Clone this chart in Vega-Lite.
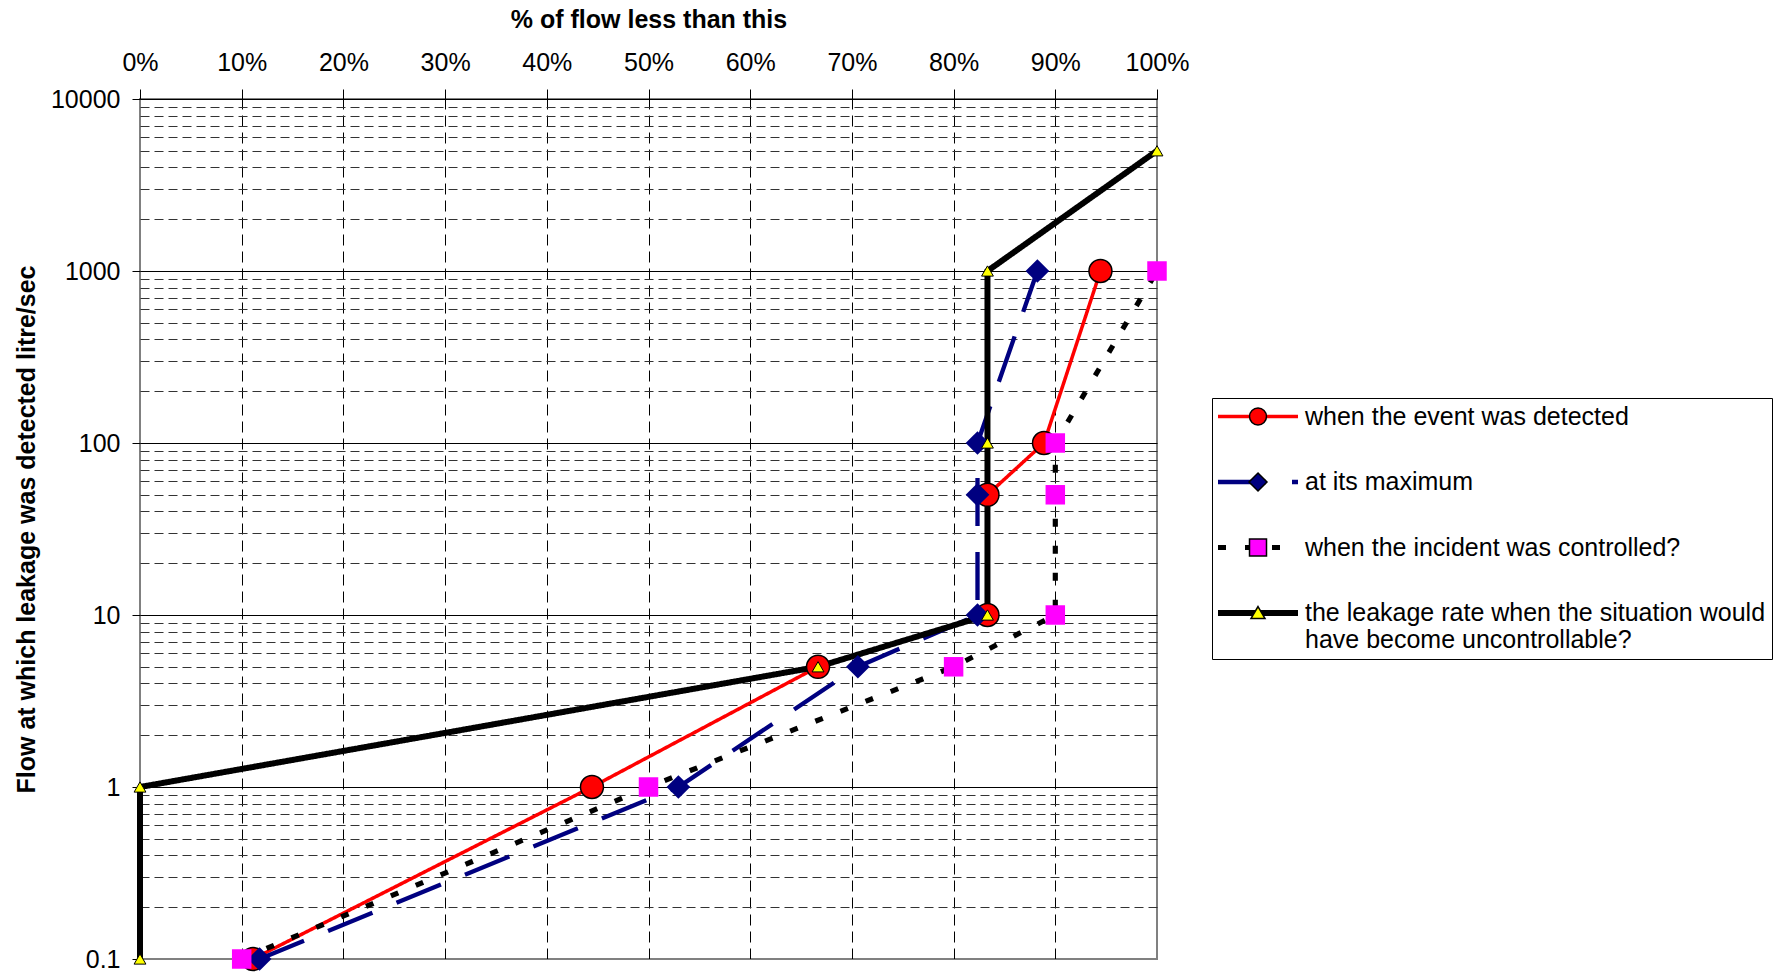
{
  "$schema": "https://vega.github.io/schema/vega-lite/v6.json",
  "width": 1017,
  "height": 860,
  "padding": {"left": 14, "top": 7, "right": 5, "bottom": 5},
  "background": "white",
  "config": {
    "font": "Liberation Sans",
    "view": {"stroke": "#808080", "strokeWidth": 2}
  },
  "data": {
    "values": [
      {"s": "when the event was detected", "k": 1, "p": 0.1111, "f": 0.1},
      {"s": "when the event was detected", "k": 1, "p": 0.4444, "f": 1},
      {"s": "when the event was detected", "k": 1, "p": 0.6667, "f": 5},
      {"s": "when the event was detected", "k": 1, "p": 0.8333, "f": 10},
      {"s": "when the event was detected", "k": 1, "p": 0.8333, "f": 50},
      {"s": "when the event was detected", "k": 1, "p": 0.8889, "f": 100},
      {"s": "when the event was detected", "k": 1, "p": 0.9444, "f": 1000},
      {"s": "at its maximum", "k": 2, "p": 0.1176, "f": 0.1},
      {"s": "at its maximum", "k": 2, "p": 0.5294, "f": 1},
      {"s": "at its maximum", "k": 2, "p": 0.7059, "f": 5},
      {"s": "at its maximum", "k": 2, "p": 0.8235, "f": 10},
      {"s": "at its maximum", "k": 2, "p": 0.8235, "f": 50},
      {"s": "at its maximum", "k": 2, "p": 0.8235, "f": 100},
      {"s": "at its maximum", "k": 2, "p": 0.8824, "f": 1000},
      {"s": "when the incident was controlled?", "k": 3, "p": 0.1, "f": 0.1},
      {"s": "when the incident was controlled?", "k": 3, "p": 0.5, "f": 1},
      {"s": "when the incident was controlled?", "k": 3, "p": 0.8, "f": 5},
      {"s": "when the incident was controlled?", "k": 3, "p": 0.9, "f": 10},
      {"s": "when the incident was controlled?", "k": 3, "p": 0.9, "f": 50},
      {"s": "when the incident was controlled?", "k": 3, "p": 0.9, "f": 100},
      {"s": "when the incident was controlled?", "k": 3, "p": 1.0, "f": 1000},
      {"s": "the leakage rate when the situation would have become uncontrollable?", "k": 4, "p": 0, "f": 0.1},
      {"s": "the leakage rate when the situation would have become uncontrollable?", "k": 4, "p": 0, "f": 1},
      {"s": "the leakage rate when the situation would have become uncontrollable?", "k": 4, "p": 0.6667, "f": 5},
      {"s": "the leakage rate when the situation would have become uncontrollable?", "k": 4, "p": 0.8333, "f": 10},
      {"s": "the leakage rate when the situation would have become uncontrollable?", "k": 4, "p": 0.8333, "f": 100},
      {"s": "the leakage rate when the situation would have become uncontrollable?", "k": 4, "p": 0.8333, "f": 1000},
      {"s": "the leakage rate when the situation would have become uncontrollable?", "k": 4, "p": 1.0, "f": 5000}
    ]
  },
  "layer": [
    {
      "mark": {"type": "line", "strokeCap": "butt"},
      "encoding": {
        "x": {
          "field": "p", "type": "quantitative",
          "scale": {"domain": [0, 1], "nice": false, "zero": false},
          "axis": {
            "orient": "top",
            "values": [0, 0.1, 0.2, 0.3, 0.4, 0.5, 0.6, 0.7, 0.8, 0.9, 1],
            "format": ".0%",
            "title": "% of flow less than this",
            "titleFontSize": 25, "titleFontWeight": "bold", "titleColor": "black", "titlePadding": 18,
            "labelFontSize": 25, "labelColor": "black", "labelPadding": 14, "labelFlush": false, "labelOverlap": false,
            "tickSize": 10, "tickColor": "black", "tickWidth": 1,
            "domain": false,
            "grid": true,
            "gridColor": {"condition": {"test": "datum.value == 0 || datum.value == 1", "value": "#808080"}, "value": "black"},
            "gridDash": {"condition": {"test": "datum.value == 0 || datum.value == 1", "value": []}, "value": [11, 6]},
            "gridWidth": 1
          }
        },
        "y": {
          "field": "f", "type": "quantitative",
          "scale": {"type": "log", "domain": [0.1, 10000], "nice": false},
          "axis": {
            "orient": "left",
            "values": [0.1, 1, 10, 100, 1000, 10000],
            "format": "~g",
            "title": "Flow at which leakage was detected litre/sec",
            "titleFontSize": 25, "titleFontWeight": "bold", "titleColor": "black", "titlePadding": 11,
            "labelFontSize": 25, "labelColor": "black", "labelPadding": 12, "labelFlush": false, "labelOverlap": false,
            "tickSize": 8, "tickColor": "black",
            "domain": false,
            "grid": true,
            "gridColor": {"condition": {"test": "datum.value == 0.1", "value": "#808080"}, "value": "black"},
            "gridWidth": 1
          }
        },
        "order": {"field": "f", "type": "quantitative"},
        "stroke": {
          "field": "s", "type": "nominal",
          "scale": {
            "domain": ["when the event was detected", "at its maximum", "when the incident was controlled?", "the leakage rate when the situation would have become uncontrollable?"],
            "range": ["#FF0000", "#000080", "#000000", "#000000"]
          },
          "legend": {
            "title": null,
            "orient": "none",
            "legendX": 1072,
            "legendY": 299,
            "symbolType": "M-1.389,0H7.5",
            "symbolSize": 324,
            "labelFont": "Liberation Sans",
            "labelFontSize": 25,
            "labelColor": "black",
            "labelOffset": 62,
            "labelLimit": 1000,
            "rowPadding": 39.5,
            "padding": 6,
            "strokeColor": "black",
            "fillColor": "white",
            "labelExpr": "datum.label == 'the leakage rate when the situation would have become uncontrollable?' ? ['the leakage rate when the situation would', 'have become uncontrollable?'] : datum.label"
          }
        },
        "strokeDash": {
          "field": "s", "type": "nominal",
          "scale": {
            "domain": ["when the event was detected", "at its maximum", "when the incident was controlled?", "the leakage rate when the situation would have become uncontrollable?"],
            "range": [[1, 0], [48, 26], [8, 19], [1, 0]]
          }
        },
        "strokeWidth": {
          "field": "s", "type": "nominal",
          "scale": {
            "domain": ["when the event was detected", "at its maximum", "when the incident was controlled?", "the leakage rate when the situation would have become uncontrollable?"],
            "range": [3.5, 6, 4, 5]
          }
        }
      }
    },
    {
      "transform": [{"filter": "datum.s == 'when the event was detected'"}],
      "mark": {"type": "point", "shape": "circle", "filled": true, "fill": "#FF0000", "stroke": "black", "strokeWidth": 1.5, "size": 529, "opacity": 1},
      "encoding": {
        "x": {"field": "p", "type": "quantitative", "axis": null},
        "y": {
          "field": "f", "type": "quantitative",
          "scale": {"type": "log", "domain": [0.1, 10000], "nice": false},
          "axis": {
            "orient": "right",
            "values": [0.2, 0.3, 0.4, 0.5, 0.6, 0.7, 0.8, 0.9, 2, 3, 4, 5, 6, 7, 8, 9, 20, 30, 40, 50, 60, 70, 80, 90, 200, 300, 400, 500, 600, 700, 800, 900, 2000, 3000, 4000, 5000, 6000, 7000, 8000, 9000],
            "labels": false, "ticks": false, "domain": false, "title": null,
            "grid": true, "gridDash": [9, 5], "gridColor": "#333333", "gridWidth": 1
          }
        }
      }
    },
    {
      "transform": [{"filter": "datum.s == 'at its maximum'"}],
      "mark": {"type": "point", "shape": "diamond", "filled": true, "fill": "#000080", "strokeWidth": 0, "size": 560, "opacity": 1},
      "encoding": {
        "x": {"field": "p", "type": "quantitative", "axis": null},
        "y": {"field": "f", "type": "quantitative", "axis": null}
      }
    },
    {
      "transform": [{"filter": "datum.s == 'when the incident was controlled?'"}],
      "mark": {"type": "point", "shape": "square", "filled": true, "fill": "#FF00FF", "strokeWidth": 0, "size": 380, "opacity": 1},
      "encoding": {
        "x": {"field": "p", "type": "quantitative", "axis": null},
        "y": {"field": "f", "type": "quantitative", "axis": null}
      }
    },
    {
      "transform": [{"filter": "datum.s == 'the leakage rate when the situation would have become uncontrollable?'"}],
      "mark": {"type": "point", "shape": "triangle-up", "filled": true, "fill": "#FFFF00", "stroke": "black", "strokeWidth": 1, "size": 140, "opacity": 1},
      "encoding": {
        "x": {"field": "p", "type": "quantitative", "axis": null},
        "y": {"field": "f", "type": "quantitative", "axis": null}
      }
    },
    {
      "mark": {"type": "point", "filled": true, "stroke": "black", "strokeWidth": 1.5, "opacity": 0},
      "encoding": {
        "x": {"field": "p", "type": "quantitative", "axis": null},
        "y": {"field": "f", "type": "quantitative", "axis": null},
        "fill": {
          "field": "s", "type": "nominal",
          "sort": {"field": "k", "op": "min"},
          "scale": {"range": ["#FF0000", "#000080", "#FF00FF", "#FFFF00"]},
          "legend": {
            "title": null,
            "orient": "none",
            "legendX": 1072,
            "legendY": 299,
            "symbolSize": 324,
            "symbolOpacity": 1,
            "labelFont": "Liberation Sans",
            "labelFontSize": 25,
            "labelOpacity": 0,
            "labelOffset": 62,
            "labelLimit": 1000,
            "rowPadding": 39.5,
            "padding": 6,
            "labelExpr": "datum.label == 'the leakage rate when the situation would have become uncontrollable?' ? ['the leakage rate when the situation would', 'have become uncontrollable?'] : datum.label"
          }
        },
        "shape": {
          "field": "s", "type": "nominal",
          "sort": {"field": "k", "op": "min"},
          "scale": {"range": [
            "M2.112,0A0.944,0.944,0,1,1,4,0A0.944,0.944,0,1,1,2.112,0Z",
            "M2.056,0L3.056,-1L4.056,0L3.056,1Z",
            "M2.112,-0.944H4V0.944H2.112Z",
            "M3.056,-0.72L3.836,0.62L2.276,0.62Z"
          ]},
          "legend": {
            "title": null,
            "orient": "none",
            "legendX": 1072,
            "legendY": 299,
            "symbolSize": 324,
            "symbolOpacity": 1,
            "labelFont": "Liberation Sans",
            "labelFontSize": 25,
            "labelOpacity": 0,
            "labelOffset": 62,
            "labelLimit": 1000,
            "rowPadding": 39.5,
            "padding": 6,
            "labelExpr": "datum.label == 'the leakage rate when the situation would have become uncontrollable?' ? ['the leakage rate when the situation would', 'have become uncontrollable?'] : datum.label"
          }
        },
        "strokeOpacity": {
          "field": "s", "type": "nominal",
          "sort": {"field": "k", "op": "min"},
          "scale": {"range": [1, 0, 0, 1]},
          "legend": {
            "title": null,
            "orient": "none",
            "legendX": 1072,
            "legendY": 299,
            "symbolSize": 324,
            "symbolOpacity": 1,
            "labelFont": "Liberation Sans",
            "labelFontSize": 25,
            "labelOpacity": 0,
            "labelOffset": 62,
            "labelLimit": 1000,
            "rowPadding": 39.5,
            "padding": 6,
            "labelExpr": "datum.label == 'the leakage rate when the situation would have become uncontrollable?' ? ['the leakage rate when the situation would', 'have become uncontrollable?'] : datum.label"
          }
        }
      }
    }
  ],
  "resolve": {"axis": {"x": "independent", "y": "independent"}}
}
